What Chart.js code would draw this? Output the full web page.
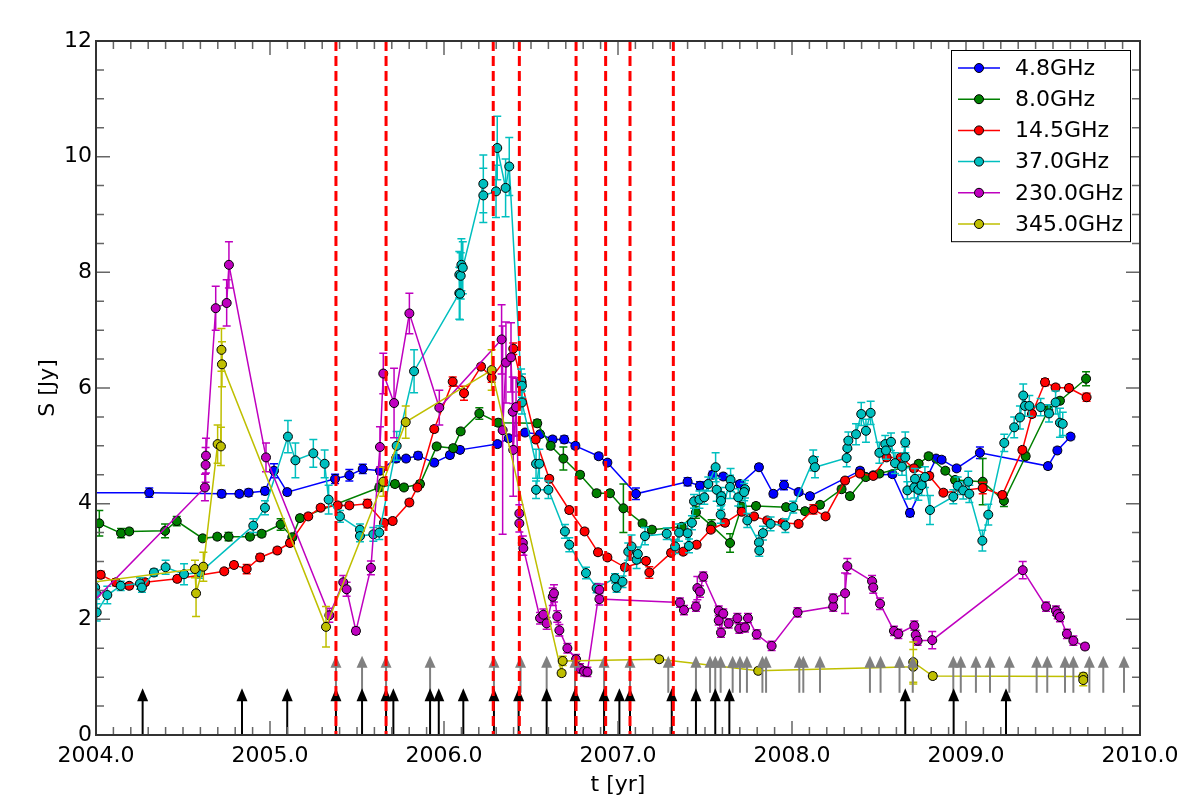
<!DOCTYPE html>
<html>
<head>
<meta charset="utf-8">
<script src="https://cdn.jsdelivr.net/npm/chart.js@4.4.1/dist/chart.umd.min.js"></script>
<style>
html, body { margin: 0; padding: 0; background: #fff; }
</style>
</head>
<body>
<canvas id="fluxChart" width="1200" height="800"></canvas>
<script>
// light curves, t in years, S in Jy, e = 1 sigma error
const t48 = [2003.90, 2004.306, 2004.722, 2004.824, 2004.877, 2004.971, 2005.023, 2005.099, 2005.374, 2005.456, 2005.533, 2005.632, 2005.724, 2005.782, 2005.851, 2005.944, 2006.034, 2006.092, 2006.307, 2006.372, 2006.466, 2006.552, 2006.624, 2006.691, 2006.755, 2006.889, 2006.939, 2007.103, 2007.400, 2007.471, 2007.544, 2007.605, 2007.701, 2007.810, 2007.893, 2007.954, 2008.038, 2008.103, 2008.391, 2008.467, 2008.577, 2008.678, 2008.828, 2008.860, 2008.946, 2009.080, 2009.471, 2009.525, 2009.601];
const s48 = [4.19, 4.19, 4.17, 4.17, 4.19, 4.22, 4.57, 4.20, 4.43, 4.49, 4.60, 4.57, 4.78, 4.78, 4.83, 4.71, 4.84, 4.93, 5.03, 5.13, 5.23, 5.20, 5.11, 5.11, 5.00, 4.82, 4.71, 4.17, 4.38, 4.31, 4.50, 4.47, 4.34, 4.63, 4.17, 4.32, 4.20, 4.13, 4.57, 4.49, 4.51, 3.84, 4.78, 4.76, 4.61, 4.88, 4.65, 4.92, 5.16];
const e48 = [0, 0.08, 0.06, 0.05, 0.06, 0.06, 0.12, 0.05, 0.08, 0.10, 0.08, 0.06, 0.06, 0.05, 0.06, 0.05, 0.05, 0.05, 0.05, 0.05, 0.05, 0.05, 0.05, 0.06, 0.05, 0.05, 0.05, 0.10, 0.07, 0.07, 0.06, 0.05, 0.05, 0.05, 0.05, 0.08, 0.05, 0.05, 0.05, 0.05, 0.05, 0.06, 0.05, 0.05, 0.05, 0.10, 0.05, 0.05, 0.05];

const t80 = [2004.019, 2004.144, 2004.191, 2004.397, 2004.464, 2004.613, 2004.697, 2004.762, 2004.885, 2004.952, 2005.061, 2005.128, 2005.172, 2005.628, 2005.718, 2005.770, 2005.862, 2005.958, 2006.053, 2006.096, 2006.203, 2006.312, 2006.536, 2006.613, 2006.686, 2006.782, 2006.877, 2006.954, 2007.031, 2007.141, 2007.195, 2007.366, 2007.448, 2007.538, 2007.644, 2007.711, 2007.793, 2007.966, 2008.075, 2008.161, 2008.285, 2008.333, 2008.424, 2008.502, 2008.728, 2008.785, 2008.881, 2008.937, 2009.096, 2009.218, 2009.343, 2009.473, 2009.540, 2009.690];
const s80 = [3.66, 3.49, 3.52, 3.53, 3.70, 3.40, 3.43, 3.43, 3.43, 3.48, 3.64, 3.42, 3.75, 4.28, 4.34, 4.28, 4.34, 4.99, 4.96, 5.25, 5.56, 5.40, 5.39, 5.00, 4.78, 4.50, 4.18, 4.18, 3.92, 3.66, 3.55, 3.60, 3.85, 3.62, 3.32, 3.95, 3.96, 3.94, 3.87, 3.98, 4.25, 4.13, 4.46, 4.52, 4.69, 4.82, 4.57, 4.41, 4.38, 4.05, 4.82, 5.62, 5.78, 6.16];
const e80 = [0.22, 0.08, 0.05, 0.12, 0.08, 0.05, 0.05, 0.07, 0.05, 0.05, 0.10, 0.05, 0.05, 0.06, 0.05, 0.05, 0.05, 0.05, 0.05, 0.05, 0.10, 0.06, 0.06, 0.06, 0.20, 0.05, 0.05, 0.05, 0.42, 0.05, 0.05, 0.05, 0.10, 0.10, 0.16, 0.05, 0.05, 0.05, 0.05, 0.05, 0.05, 0.05, 0.05, 0.05, 0.05, 0.05, 0.05, 0.05, 0.40, 0.10, 0.05, 0.05, 0.05, 0.12];

const t145 = [2004.027, 2004.115, 2004.191, 2004.282, 2004.467, 2004.737, 2004.793, 2004.866, 2004.943, 2005.042, 2005.115, 2005.220, 2005.291, 2005.389, 2005.456, 2005.560, 2005.655, 2005.705, 2005.801, 2005.847, 2005.944, 2006.050, 2006.115, 2006.213, 2006.274, 2006.398, 2006.446, 2006.527, 2006.605, 2006.720, 2006.808, 2006.885, 2006.939, 2007.040, 2007.161, 2007.180, 2007.305, 2007.375, 2007.452, 2007.533, 2007.615, 2007.711, 2007.782, 2007.858, 2007.946, 2008.038, 2008.123, 2008.193, 2008.305, 2008.391, 2008.467, 2008.544, 2008.625, 2008.701, 2008.789, 2008.870, 2009.096, 2009.209, 2009.324, 2009.379, 2009.454, 2009.515, 2009.592, 2009.693];
const s145 = [2.77, 2.64, 2.58, 2.64, 2.70, 2.83, 2.94, 2.87, 3.07, 3.19, 3.32, 3.78, 3.93, 3.97, 3.97, 4.00, 3.67, 3.70, 4.02, 4.28, 5.29, 6.11, 5.91, 6.37, 6.18, 6.68, 6.10, 5.11, 4.43, 3.89, 3.52, 3.16, 3.07, 2.90, 3.01, 2.81, 3.15, 3.17, 3.29, 3.55, 3.67, 3.86, 3.78, 3.71, 3.67, 3.65, 3.90, 3.78, 4.40, 4.52, 4.48, 4.80, 4.80, 4.61, 4.48, 4.19, 4.27, 4.15, 4.93, 5.55, 6.10, 6.01, 6.00, 5.84];
const e145 = [0.06, 0.06, 0.05, 0.05, 0.05, 0.05, 0.05, 0.08, 0.06, 0.05, 0.05, 0.05, 0.05, 0.05, 0.05, 0.07, 0.05, 0.05, 0.05, 0.05, 0.05, 0.08, 0.12, 0.05, 0.08, 0.10, 0.08, 0.05, 0.05, 0.05, 0.05, 0.05, 0.05, 0.05, 0.05, 0.10, 0.05, 0.05, 0.05, 0.05, 0.05, 0.05, 0.05, 0.05, 0.05, 0.05, 0.08, 0.05, 0.05, 0.05, 0.05, 0.05, 0.05, 0.05, 0.05, 0.05, 0.10, 0.05, 0.05, 0.05, 0.06, 0.05, 0.05, 0.07];

const t370 = [2003.995, 2004.000, 2004.004, 2004.065, 2004.142, 2004.253, 2004.264, 2004.333, 2004.400, 2004.506,
  2004.598, 2004.904, 2004.971, 2005.103, 2005.146, 2005.249, 2005.314, 2005.337, 2005.402, 2005.517,
  2005.517, 2005.594, 2005.628, 2005.728, 2005.828, 2006.088, 2006.092, 2006.088, 2006.096, 2006.100,
  2006.108, 2006.226, 2006.226, 2006.299, 2006.306, 2006.354, 2006.375, 2006.443, 2006.448, 2006.448,
  2006.529, 2006.548, 2006.529, 2006.600, 2006.695, 2006.720, 2006.816, 2006.877, 2006.983, 2006.992,
  2007.026, 2007.059, 2007.078, 2007.107, 2007.114, 2007.155, 2007.280, 2007.328, 2007.351, 2007.400,
  2007.408, 2007.425, 2007.437, 2007.468, 2007.496, 2007.519, 2007.561, 2007.567, 2007.594, 2007.592,
  2007.590, 2007.647, 2007.644, 2007.691, 2007.730, 2007.725, 2007.743, 2007.810, 2007.812, 2007.833,
  2007.877, 2007.962, 2008.007, 2008.122, 2008.132, 2008.314, 2008.318, 2008.324, 2008.368, 2008.398,
  2008.425, 2008.452, 2008.502, 2008.536, 2008.540, 2008.569, 2008.592, 2008.632, 2008.651, 2008.651,
  2008.663, 2008.707, 2008.703, 2008.726, 2008.745, 2008.764, 2008.793, 2008.927, 2008.952, 2008.984,
  2009.013, 2009.019, 2009.094, 2009.128, 2009.220, 2009.277, 2009.310, 2009.329, 2009.339, 2009.364,
  2009.429, 2009.477, 2009.515, 2009.540, 2009.556];
const s370 = [2.55, 2.45, 2.12, 2.42, 2.58, 2.62, 2.55, 2.81, 2.90, 2.78,
  2.81, 3.62, 3.93, 5.16, 4.75, 4.87, 4.69, 4.07, 3.78, 3.55,
  3.44, 3.47, 3.50, 5.00, 6.29, 7.64, 7.63, 7.96, 7.94, 8.13,
  8.08, 9.53, 9.33, 9.40, 10.15, 9.46, 9.83, 6.13, 6.04, 5.75,
  4.69, 4.69, 4.24, 4.24, 3.52, 3.29, 2.80, 2.54, 2.71, 2.55,
  2.65, 3.17, 3.26, 3.03, 3.13, 3.44, 3.48, 3.26, 3.50, 3.49,
  3.27, 3.67, 4.04, 4.07, 4.11, 4.34, 4.63, 4.24, 4.13, 4.05,
  3.81, 4.41, 4.29, 4.11, 4.25, 4.20, 3.71, 3.33, 3.19, 3.49,
  3.65, 3.62, 3.94, 4.75, 4.63, 4.79, 4.96, 5.09, 5.20, 5.55,
  5.26, 5.57, 4.88, 5.03, 4.92, 5.07, 4.70, 4.64, 5.06, 4.80,
  4.23, 4.43, 4.28, 4.24, 4.32, 4.46, 3.89, 4.12, 4.31, 4.23,
  4.38, 4.17, 3.36, 3.81, 5.05, 5.32, 5.49, 5.87, 5.69, 5.69,
  5.67, 5.56, 5.75, 5.40, 5.38];
const e370 = [0.10, 0.10, 0.15, 0.15, 0.08, 0.10, 0.08, 0.06, 0.12, 0.18,
  0.10, 0.12, 0.12, 0.28, 0.30, 0.24, 0.24, 0.25, 0.10, 0.10,
  0.10, 0.12, 0.12, 0.25, 0.37, 0.45, 0.45, 0.40, 0.40, 0.45,
  0.45, 0.50, 0.47, 0.45, 0.55, 0.50, 0.50, 0.20, 0.20, 0.20,
  0.25, 0.25, 0.15, 0.15, 0.12, 0.12, 0.10, 0.08, 0.08, 0.08,
  0.10, 0.15, 0.20, 0.15, 0.12, 0.15, 0.10, 0.12, 0.15, 0.18,
  0.12, 0.12, 0.12, 0.15, 0.12, 0.12, 0.25, 0.20, 0.15, 0.15,
  0.15, 0.20, 0.20, 0.15, 0.15, 0.15, 0.12, 0.12, 0.10, 0.12,
  0.12, 0.12, 0.10, 0.18, 0.18, 0.15, 0.15, 0.15, 0.18, 0.20,
  0.20, 0.20, 0.18, 0.15, 0.15, 0.15, 0.18, 0.15, 0.18, 0.18,
  0.15, 0.18, 0.18, 0.18, 0.18, 0.18, 0.25, 0.12, 0.15, 0.15,
  0.18, 0.15, 0.18, 0.18, 0.15, 0.18, 0.20, 0.20, 0.18, 0.18,
  0.15, 0.15, 0.20, 0.25, 0.20];

const t230 = [2003.95, 2004.626, 2004.630, 2004.632, 2004.688, 2004.751, 2004.764, 2004.977, 2005.341, 2005.421,
  2005.440, 2005.494, 2005.580, 2005.632, 2005.651, 2005.713, 2005.801, 2005.973, 2006.331, 2006.337,
  2006.356, 2006.385, 2006.395, 2006.398, 2006.414, 2006.433, 2006.433, 2006.453, 2006.456, 2006.552,
  2006.571, 2006.590, 2006.625, 2006.632, 2006.651, 2006.663, 2006.709, 2006.759, 2006.782, 2006.805,
  2006.824, 2006.893, 2006.893, 2007.356, 2007.379, 2007.448, 2007.456, 2007.471, 2007.490, 2007.579,
  2007.579, 2007.592, 2007.605, 2007.636, 2007.686, 2007.697, 2007.730, 2007.747, 2007.797, 2007.883,
  2008.032, 2008.237, 2008.237, 2008.305, 2008.318, 2008.460, 2008.467, 2008.506, 2008.586, 2008.611,
  2008.703, 2008.711, 2008.722, 2008.806, 2009.326, 2009.460, 2009.517, 2009.527, 2009.540, 2009.580,
  2009.617, 2009.684];
const s230 = [2.20, 4.28, 4.67, 4.83, 7.38, 7.47, 8.13, 4.80, 2.07, 2.64,
  2.52, 1.80, 2.89, 4.98, 6.25, 5.74, 7.29, 5.66, 6.84, 5.27,
  6.44, 6.53, 5.59, 4.93, 5.67, 3.83, 3.66, 3.32, 3.23, 2.02,
  2.08, 1.93, 2.39, 2.45, 2.05, 1.81, 1.50, 1.31, 1.15, 1.10,
  1.09, 2.51, 2.35, 2.29, 2.16, 2.22, 2.54, 2.48, 2.74, 2.15,
  1.98, 1.77, 2.10, 1.93, 2.02, 1.84, 1.86, 2.02, 1.74, 1.54,
  2.12, 2.22, 2.36, 2.45, 2.92, 2.66, 2.55, 2.27, 1.80, 1.75,
  1.89, 1.73, 1.63, 1.64, 2.85, 2.22, 2.15, 2.09, 2.04, 1.75,
  1.63, 1.53];
const e230 = [0, 0.23, 0.30, 0.30, 0.38, 0.40, 0.40, 0.25, 0.12, 0.12,
  0.12, 0.06, 0.12, 0.35, 0.35, 0.60, 0.35, 0.30, 0.60, 1.80,
  0.70, 0.60, 0.60, 0.80, 0.50, 0.15, 0.15, 0.12, 0.12, 0.10,
  0.10, 0.10, 0.15, 0.15, 0.10, 0.10, 0.08, 0.08, 0.08, 0.08,
  0.08, 0.10, 0.10, 0.08, 0.08, 0.08, 0.20, 0.10, 0.08, 0.08,
  0.08, 0.08, 0.08, 0.08, 0.08, 0.08, 0.08, 0.08, 0.08, 0.08,
  0.08, 0.08, 0.08, 0.35, 0.13, 0.10, 0.10, 0.10, 0.08, 0.08,
  0.08, 0.08, 0.08, 0.15, 0.15, 0.08, 0.08, 0.08, 0.08, 0.08,
  0.08, 0.05];

const t345 = [2003.95, 2004.569, 2004.575, 2004.617, 2004.699, 2004.718, 2004.721, 2004.724, 2005.322, 2005.651, 2005.780, 2006.274, 2006.676, 2006.682, 2007.237, 2007.806, 2008.697, 2008.697, 2008.809, 2009.674, 2009.674];
const s345 = [2.63, 2.87, 2.45, 2.91, 5.03, 4.99, 6.66, 6.41, 1.87, 4.38, 5.41, 6.31, 1.07, 1.28, 1.31, 1.11, 1.18, 1.26, 1.02, 1.01, 0.95];
const e345 = [0, 0.15, 0.40, 0.25, 0.33, 0.33, 0.37, 0.39, 0.35, 0.25, 0.28, 0.35, 0.05, 0.08, 0.05, 0.05, 0.30, 0.35, 0.05, 0.06, 0.10];

// event epochs
const flareLines = [2005.379, 2005.667, 2006.283, 2006.433, 2006.759, 2006.929, 2007.069, 2007.318];
const blackArrows = [2004.268, 2004.839, 2005.099, 2005.379, 2005.529, 2005.667, 2005.709, 2005.920, 2005.970, 2006.111, 2006.287, 2006.429, 2006.590, 2006.753, 2006.920, 2007.008, 2007.069, 2007.309, 2007.448, 2007.559, 2007.640, 2008.651, 2008.929, 2009.230];
const grayArrows = [2005.379, 2005.529, 2005.667, 2005.920, 2006.287, 2006.440, 2006.590, 2006.753, 2006.920, 2007.069, 2007.289, 2007.448, 2007.529, 2007.559, 2007.590, 2007.659, 2007.701, 2007.741, 2007.830, 2007.851, 2008.042, 2008.065, 2008.161, 2008.448, 2008.509, 2008.618, 2008.694, 2008.927, 2008.970, 2009.057, 2009.138, 2009.249, 2009.406, 2009.467, 2009.569, 2009.617, 2009.709, 2009.789, 2009.908];

const FONT = '"DejaVu Sans", "Liberation Sans", sans-serif';
Chart.defaults.font.family = FONT;
Chart.defaults.color = '#000';

function series(label, t, s, e, color, order) {
    return {
        label: label,
        data: t.map((x, i) => ({x: x, y: s[i]})),
        errors: e,
        showLine: true,
        borderColor: color,
        backgroundColor: color,
        borderWidth: 1.5,
        pointRadius: 4.5,
        pointBorderWidth: 1,
        pointBorderColor: '#000',
        pointBackgroundColor: color,
        order: order
    };
}

// error bars go under each dataset's line and markers
const errorBars = {
    id: 'errorBars',
    beforeDatasetDraw(chart, args) {
        const ds = chart.data.datasets[args.index];
        if (!ds.errors) return;
        const {ctx, chartArea: a} = chart;
        const y = chart.scales.y;
        ctx.save();
        ctx.beginPath();
        ctx.rect(a.left, a.top, a.right - a.left, a.bottom - a.top);
        ctx.clip();
        ctx.strokeStyle = ds.borderColor;
        ctx.lineWidth = 1.5;
        ctx.beginPath();
        args.meta.data.forEach((pt, i) => {
            const e = ds.errors[i] || 0;
            if (!e) return;
            const v = ds.data[i].y;
            const y1 = y.getPixelForValue(v - e);
            const y2 = y.getPixelForValue(v + e);
            ctx.moveTo(pt.x, y1); ctx.lineTo(pt.x, y2);
            ctx.moveTo(pt.x - 4, y1); ctx.lineTo(pt.x + 4, y1);
            ctx.moveTo(pt.x - 4, y2); ctx.lineTo(pt.x + 4, y2);
        });
        ctx.stroke();
        ctx.restore();
    }
};

function arrow(ctx, px, yBase, yTip, color, headW, headH) {
    ctx.strokeStyle = color;
    ctx.fillStyle = color;
    ctx.lineWidth = 2;
    ctx.beginPath();
    ctx.moveTo(px, yBase);
    ctx.lineTo(px, yTip + headH - 1);
    ctx.stroke();
    ctx.beginPath();
    ctx.moveTo(px, yTip);
    ctx.lineTo(px - headW / 2, yTip + headH);
    ctx.lineTo(px + headW / 2, yTip + headH);
    ctx.closePath();
    ctx.fill();
}

const markers = {
    id: 'markers',
    afterDatasetsDraw(chart) {
        const {ctx, chartArea: a} = chart;
        const x = chart.scales.x, y = chart.scales.y;
        ctx.save();
        ctx.beginPath();
        ctx.rect(a.left, a.top, a.right - a.left, a.bottom - a.top);
        ctx.clip();
        grayArrows.forEach(t => {
            arrow(ctx, x.getPixelForValue(t), y.getPixelForValue(0.73), y.getPixelForValue(1.37), '#808080', 11, 12);
        });
        blackArrows.forEach(t => {
            arrow(ctx, x.getPixelForValue(t), y.getPixelForValue(0), y.getPixelForValue(0.81), '#000000', 11, 13);
        });
        ctx.strokeStyle = '#ff0000';
        ctx.lineWidth = 3;
        ctx.setLineDash([10, 5]);
        flareLines.forEach(t => {
            const px = x.getPixelForValue(t);
            ctx.beginPath();
            ctx.moveTo(px, a.top);
            ctx.lineTo(px, a.bottom);
            ctx.stroke();
        });
        ctx.restore();
    }
};

// matplotlib-like frame with inward ticks on all four sides
const frame = {
    id: 'frame',
    afterDatasetsDraw(chart) {
        const {ctx, chartArea: a} = chart;
        const x = chart.scales.x, y = chart.scales.y;
        ctx.save();
        ctx.strokeStyle = '#666';
        ctx.lineWidth = 1.5;
        ctx.beginPath();
        for (let k = 0; k <= 60; k++) {
            const px = x.getPixelForValue(x.min + k / 10);
            const len = k % 10 === 0 ? 14 : 8;
            ctx.moveTo(px, a.bottom); ctx.lineTo(px, a.bottom - len);
            ctx.moveTo(px, a.top); ctx.lineTo(px, a.top + len);
        }
        for (let k = 0; k <= 24; k++) {
            const py = y.getPixelForValue(k / 2);
            const len = k % 4 === 0 ? 14 : 8;
            ctx.moveTo(a.left, py); ctx.lineTo(a.left + len, py);
            ctx.moveTo(a.right, py); ctx.lineTo(a.right - len, py);
        }
        ctx.stroke();
        ctx.strokeStyle = '#333';
        ctx.lineWidth = 2;
        ctx.strokeRect(a.left, a.top, a.right - a.left, a.bottom - a.top);
        ctx.restore();
    }
};

const boxLegend = {
    id: 'boxLegend',
    afterDraw(chart) {
        const {ctx, chartArea: a} = chart;
        const items = chart.data.datasets.filter(d => d.errors);
        const w = 179, rowH = 31.2;
        const left = a.right - 10 - w, top = a.top + 9;
        const h = items.length * rowH + 4;
        ctx.save();
        ctx.fillStyle = '#fff';
        ctx.fillRect(left, top, w, h);
        ctx.strokeStyle = '#000';
        ctx.lineWidth = 1;
        ctx.strokeRect(left + 0.5, top + 0.5, w, h);
        ctx.font = '22px ' + FONT;
        ctx.textBaseline = 'middle';
        items.forEach((d, i) => {
            const cy = top + 18 + i * rowH;
            ctx.strokeStyle = d.borderColor;
            ctx.lineWidth = 1.5;
            ctx.beginPath();
            ctx.moveTo(left + 7, cy);
            ctx.lineTo(left + 49, cy);
            ctx.stroke();
            ctx.beginPath();
            ctx.arc(left + 28, cy, 4.5, 0, Math.PI * 2);
            ctx.fillStyle = d.borderColor;
            ctx.fill();
            ctx.strokeStyle = '#000';
            ctx.lineWidth = 1;
            ctx.stroke();
            ctx.fillStyle = '#000';
            ctx.fillText(d.label, left + 64, cy + 1);
        });
        ctx.restore();
    }
};

new Chart(document.getElementById('fluxChart'), {
    type: 'scatter',
    data: {
        datasets: [
            series('4.8GHz', t48, s48, e48, '#0000ff', 6),
            series('8.0GHz', t80, s80, e80, '#008000', 5),
            series('14.5GHz', t145, s145, e145, '#ff0000', 4),
            series('37.0GHz', t370, s370, e370, '#00bfbf', 3),
            series('230.0GHz', t230, s230, e230, '#bf00bf', 2),
            series('345.0GHz', t345, s345, e345, '#bfbf00', 1)
        ]
    },
    options: {
        responsive: false,
        devicePixelRatio: 1,
        animation: false,
        events: [],
        layout: {padding: {top: 41, right: 60, left: 0, bottom: 0}},
        plugins: {
            legend: {display: false},
            tooltip: {enabled: false}
        },
        scales: {
            x: {
                type: 'linear',
                min: 2004, max: 2010,
                grid: {display: false, drawTicks: false},
                border: {display: false},
                ticks: {stepSize: 1, padding: 8, maxRotation: 0, autoSkip: false,
                    font: {size: 22}, color: '#000', callback: v => v.toFixed(1)},
                title: {display: true, text: 't [yr]', font: {size: 22}, color: '#000', padding: {top: 0, bottom: 2}},
                afterFit: s => { s.height = 65; }
            },
            y: {
                type: 'linear',
                min: 0, max: 12,
                grid: {display: false, drawTicks: false},
                border: {display: false},
                ticks: {stepSize: 2, padding: 4, font: {size: 22}, color: '#000'},
                title: {display: true, text: 'S [Jy]', font: {size: 22}, color: '#000', padding: {top: 35, bottom: 0}},
                afterFit: s => { s.width = 96; }
            }
        }
    },
    plugins: [errorBars, markers, frame, boxLegend]
});
</script>
</body>
</html>
